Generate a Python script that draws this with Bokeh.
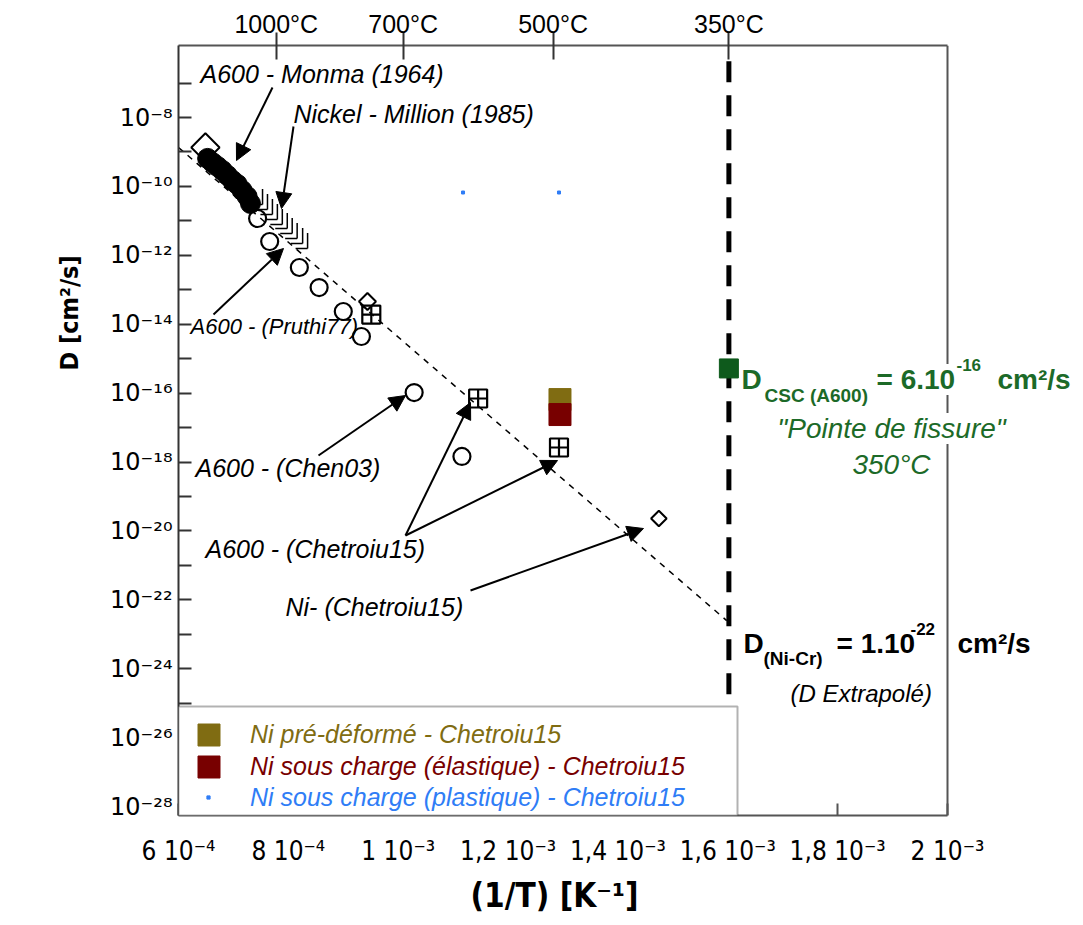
import numpy as np
from bokeh.plotting import figure
from bokeh.models import (Range1d, LinearAxis, FixedTicker, Label, Arrow, NormalHead,
                          BoxAnnotation, Legend, LegendItem, Span, Title)
from bokeh.embed import file_html
from bokeh.resources import INLINE

# ---------------- data ----------------
# x = 1/T [K^-1], y = D [cm2/s]
MONMA_OPEN_X = [6.49e-4]
MONMA_OPEN_D = [1.35e-9]
MONMA_X = [6.53e-4, 6.62e-4, 6.71e-4, 6.80e-4, 6.89e-4, 6.98e-4, 7.07e-4, 7.16e-4, 7.25e-4, 7.31e-4]
MONMA_D = [6.5e-10, 4.9e-10, 3.8e-10, 2.9e-10, 2.1e-10, 1.5e-10, 1.15e-10, 7.6e-11, 5.1e-11, 3.2e-11]

MILLION_X = [7.53e-4, 7.62e-4, 7.71e-4, 7.80e-4, 7.89e-4, 7.98e-4, 8.07e-4, 8.16e-4, 8.26e-4, 8.35e-4]
MILLION_D = [3.0e-11, 2.13e-11, 1.53e-11, 1.09e-11, 7.8e-12, 6.0e-12, 4.3e-12, 3.08e-12, 2.2e-12, 1.57e-12]

PRUTHI_X = [7.44e-4, 7.66e-4, 8.20e-4, 8.56e-4, 9.00e-4, 9.33e-4]
PRUTHI_D = [1.17e-11, 2.52e-12, 4.43e-13, 1.16e-13, 2.34e-14, 4.4e-15]

CHEN_X = [1.029e-3, 1.116e-3]
CHEN_D = [1.04e-16, 1.45e-18]

CHET_A600_X = [9.51e-4, 1.1455e-3, 1.2927e-3]
CHET_A600_D = [1.91e-14, 6.97e-17, 2.64e-18]

CHET_NI_X = [9.44e-4, 1.4745e-3]
CHET_NI_D = [4.56e-14, 2.29e-20]

NI_PREDEF_X = [1.2945e-3]
NI_PREDEF_D = [6.5e-17]
NI_ELAST_X = [1.2945e-3]
NI_ELAST_D = [2.39e-17]
NI_PLAST_X = [1.118e-3, 1.2927e-3]
NI_PLAST_D = [6.65e-11, 6.65e-11]

CSC_X = [1.602e-3]
CSC_D = [5.2e-16]

ARR_X = [6.0e-4, 1.598e-3]          # extrapolated Arrhenius line
ARR_D = [1.35e-9, 2.5e-23]

T350_X = [1.602e-3, 1.602e-3]       # 350 degC vertical line
T350_D = [4.3e-7, 5.5e-29]

X_TICKS = [6e-4, 8e-4, 1e-3, 1.2e-3, 1.4e-3, 1.6e-3, 1.8e-3, 2e-3]
X_LABELS = ["6 10⁻⁴", "8 10⁻⁴", "1 10⁻³", "1,2 10⁻³", "1,4 10⁻³", "1,6 10⁻³", "1,8 10⁻³", "2 10⁻³"]
Y_MAJOR = [1e-28, 1e-26, 1e-24, 1e-22, 1e-20, 1e-18, 1e-16, 1e-14, 1e-12, 1e-10, 1e-08]
Y_LABELS = ["10⁻²⁸", "10⁻²⁶", "10⁻²⁴", "10⁻²²", "10⁻²⁰", "10⁻¹⁸", "10⁻¹⁶", "10⁻¹⁴", "10⁻¹²", "10⁻¹⁰", "10⁻⁸"]
Y_MINOR = [1e-27, 1e-25, 1e-23, 1e-21, 1e-19, 1e-17, 1e-15, 1e-13, 1e-11, 1e-09, 1e-07]
TEMP_X = [7.78e-4, 1.009e-3, 1.282e-3, 1.602e-3]
TEMP_LABELS = ["1000°C", "700°C", "500°C", "350°C"]

# ---------------- layout helpers (canvas pixels -> data) ----------------
W, H = 1083, 925
X0, X1 = 6e-4, 2e-3
LY0, LY1 = -28.26, -5.91
FL, FR, FT, FB = 178, 947, 45, 815
XS = (X1 - X0) / (FR - FL)
X_END = X1 + (W - FR) * XS


def dx(px):
    return X0 + (px - FL) * XS


def dy(py):
    return 10 ** (LY1 - (py - FT) * (LY1 - LY0) / (FB - FT))


SANS = "Liberation Sans"
SUP = "DejaVu Sans"
COND = "'DejaVu Sans Condensed', 'DejaVu Sans'"
GREEN_TXT = "#1c6a28"
GREEN_SQ = "#0e5a1c"
OLIVE = "#806c12"
DARKRED = "#780000"
BLUE = "#2f7df6"
FRAME = "#555555"

p = figure(width=W, height=H, x_range=Range1d(X0, X_END),
           y_range=Range1d(10 ** LY0, 10 ** LY1), y_axis_type="log",
           output_backend="svg", toolbar_location=None,
           min_border_left=FL, min_border_right=0, min_border_top=FT, min_border_bottom=H - FB)
p.grid.visible = False
p.outline_line_color = None

# ---- y axis
ya = p.yaxis[0]
ya.ticker = FixedTicker(ticks=Y_MAJOR, minor_ticks=Y_MINOR)
ya.major_label_overrides = {t: l for t, l in zip(Y_MAJOR, Y_LABELS)}
ya.major_tick_in = 13
ya.major_tick_out = 0
ya.minor_tick_in = 13
ya.minor_tick_out = 0
ya.major_tick_line_width = 2
ya.minor_tick_line_width = 2
ya.axis_line_width = 2
ya.axis_line_color = "#333333"
ya.major_tick_line_color = "#333333"
ya.minor_tick_line_color = "#333333"
ya.major_label_text_font = SUP
ya.major_label_text_font_size = "24px"
ya.major_label_text_color = "black"
ya.major_label_standoff = 6

# ---- x axis
xa = p.xaxis[0]
xa.ticker = FixedTicker(ticks=X_TICKS, minor_ticks=[])
xa.bounds = (X0, X1)
xa.major_label_overrides = {t: l for t, l in zip(X_TICKS, X_LABELS)}
xa.major_tick_in = 12
xa.major_tick_out = 0
xa.major_tick_line_width = 2
xa.axis_line_width = 2
xa.axis_line_color = FRAME
xa.major_tick_line_color = FRAME
xa.major_label_text_font = COND
xa.major_label_text_font_size = "26px"
xa.major_label_text_color = "black"
xa.major_label_standoff = 20

# ---- top temperature axis
ta = LinearAxis(ticker=FixedTicker(ticks=TEMP_X, minor_ticks=[]), bounds=(X0, X1),
                major_label_overrides={t: l for t, l in zip(TEMP_X, TEMP_LABELS)})
ta.major_tick_in = 14
ta.major_tick_out = 13
ta.major_tick_line_width = 2
ta.axis_line_width = 2
ta.axis_line_color = FRAME
ta.major_tick_line_color = "#333333"
ta.major_label_text_font = SANS
ta.major_label_text_font_size = "25px"
ta.major_label_text_color = "black"
ta.major_label_standoff = -5
p.add_layout(ta, "above")

# ---- axis titles
tprops = Title.properties()
ykw = dict(text="D [cm²/s]", align="left", vertical_align="top", offset=445,
           text_font=COND, text_font_style="bold", text_font_size="25px", text_color="black")
if "standoff" in tprops:
    ykw["standoff"] = 44 if "padding" in tprops else 72
if "padding" in tprops:
    ykw["padding"] = dict(left=0, right=0, top=0, bottom=28)
p.add_layout(Title(**ykw), "left")
p.add_layout(Title(text="(1/T) [K⁻¹]", align="left", vertical_align="bottom", offset=292,
                   text_font=COND, text_font_style="bold", text_font_size="33px",
                   text_color="black"), "below")

# right frame line
p.add_layout(Span(location=X1, dimension="height", line_color=FRAME, line_width=2))

# ---------------- glyphs ----------------
p.line(ARR_X, ARR_D, line_color="black", line_width=1.5, line_dash="6 6")
p.line(T350_X, T350_D, line_color="black", line_width=5, line_dash="21 13")

p.scatter(MONMA_OPEN_X, MONMA_OPEN_D, marker="square", angle=np.pi / 4, size=20,
          fill_alpha=0, line_color="black", line_width=2)
p.scatter(MONMA_X, MONMA_D, marker="circle", size=20, color="black")

mx = np.array(MILLION_X)
md = np.array(MILLION_D)
p.segment(x0=mx - 12 * XS, y0=md, x1=mx, y1=md, line_color="black", line_width=1.5)
p.segment(x0=mx, y0=md, x1=mx, y1=md * 10 ** 0.45, line_color="black", line_width=1.5)

p.scatter(PRUTHI_X, PRUTHI_D, marker="circle", size=17, fill_alpha=0, line_color="black", line_width=2.2)
p.scatter(CHEN_X, CHEN_D, marker="circle", size=17, fill_alpha=0, line_color="black", line_width=2.2)
p.scatter(CHET_A600_X, CHET_A600_D, marker="square_cross", size=18, fill_alpha=0,
          line_color="black", line_width=2.2)
p.scatter(CHET_NI_X[:1], CHET_NI_D[:1], marker="square", angle=np.pi / 4, size=12,
          fill_alpha=0, line_color="black", line_width=2)
p.scatter(CHET_NI_X[1:], CHET_NI_D[1:], marker="square", angle=np.pi / 4, size=11,
          fill_alpha=0, line_color="black", line_width=2)

r_olive = p.scatter(NI_PREDEF_X, NI_PREDEF_D, marker="square", size=22, color=OLIVE)
r_red = p.scatter(NI_ELAST_X, NI_ELAST_D, marker="square", size=22, color=DARKRED)
r_blue = p.scatter(NI_PLAST_X, NI_PLAST_D, marker="square", size=3, color=BLUE)
p.scatter(CSC_X, CSC_D, marker="square", size=19, color=GREEN_SQ)

# ---------------- arrows ----------------
ARROWS = [((272, 87), (236, 160)), ((293, 126), (281, 208)), ((213, 314), (283, 248)),
          ((318, 455), (405, 395)), ((405, 535), (470, 402)), ((405, 535), (557, 460)),
          ((470, 590), (643, 528))]
for (sx0, sy0), (sx1, sy1) in ARROWS:
    p.add_layout(Arrow(end=NormalHead(size=16, fill_color="black", line_color="black", line_width=1),
                       x_start=dx(sx0), y_start=dy(sy0), x_end=dx(sx1), y_end=dy(sy1),
                       line_color="black", line_width=2))


# ---------------- annotation texts ----------------
def lab(text, px, py, size, color="black", style="italic", font=SANS, align="left",
        baseline="middle", bg=None):
    kw = dict(x=dx(px), y=dy(py), text=text, text_font=font, text_font_style=style,
              text_font_size=f"{size}px", text_color=color, text_align=align,
              text_baseline=baseline)
    if bg:
        kw.update(background_fill_color=bg)
    p.add_layout(Label(**kw))


lab("A600 - Monma (1964)", 200, 73, 25)
lab("Nickel - Million (1985)", 293, 113, 25)
lab("A600 - (Pruthi77)", 190, 326, 22)
lab("A600 - (Chen03)", 195, 467, 25)
lab("A600 - (Chetroiu15)", 205, 548, 25)
lab("Ni- (Chetroiu15)", 285, 606, 25)

# D CSC (green)
lab("D", 741, 379, 28, color=GREEN_TXT, style="bold", baseline="alphabetic", bg="white")
lab("CSC (A600)", 764, 395, 19, color=GREEN_TXT, style="bold", baseline="alphabetic", bg="white")
lab("= 6.10", 876, 379, 28, color=GREEN_TXT, style="bold", baseline="alphabetic", bg="white")
lab("-16", 956, 364, 17, color=GREEN_TXT, style="bold", baseline="alphabetic", bg="white")
lab("cm²/s", 997, 379, 28, color=GREEN_TXT, style="bold", baseline="alphabetic", bg="white")
lab("\"Pointe de fissure\"", 891, 428, 28, color=GREEN_TXT, align="center", bg="white")
lab("350°C", 891, 464, 28, color=GREEN_TXT, align="center", bg="white")

# D Ni-Cr (black)
lab("D", 743, 643, 28, style="bold", baseline="alphabetic", bg="white")
lab("(Ni-Cr)", 763, 658, 19, style="bold", baseline="alphabetic", bg="white")
lab("= 1.10", 836, 643, 28, style="bold", baseline="alphabetic", bg="white")
lab("-22", 910, 628, 17, style="bold", baseline="alphabetic", bg="white")
lab("cm²/s", 957, 643, 28, style="bold", baseline="alphabetic", bg="white")
lab("(D Extrapolé)", 790, 693, 24)

# ---------------- legend ----------------
p.add_layout(BoxAnnotation(left=dx(FL), right=dx(737), top=dy(706), bottom=dy(FB),
                           fill_color="white", fill_alpha=1, line_color="black", line_width=2))


def leg(renderer, text, color, gw, gh, lx, ly, standoff):
    L = Legend(items=[LegendItem(label=text, renderers=[renderer])], location=(lx, ly),
               glyph_width=gw, glyph_height=gh, label_height=gh, label_standoff=standoff,
               padding=0, margin=0, spacing=0, border_line_alpha=0, background_fill_alpha=0,
               label_text_font=SANS, label_text_font_style="italic", label_text_font_size="25px",
               label_text_color=color)
    p.add_layout(L)


leg(r_olive, "Ni pré-déformé - Chetroiu15", OLIVE, 55, 55, 3, 53, 14)
leg(r_red, "Ni sous charge (élastique) - Chetroiu15", DARKRED, 55, 55, 3, 21, 14)
leg(r_blue, "Ni sous charge (plastique) - Chetroiu15", BLUE, 8, 30, 26, 3, 38)

open("out.html", "w").write(file_html(p, INLINE))
